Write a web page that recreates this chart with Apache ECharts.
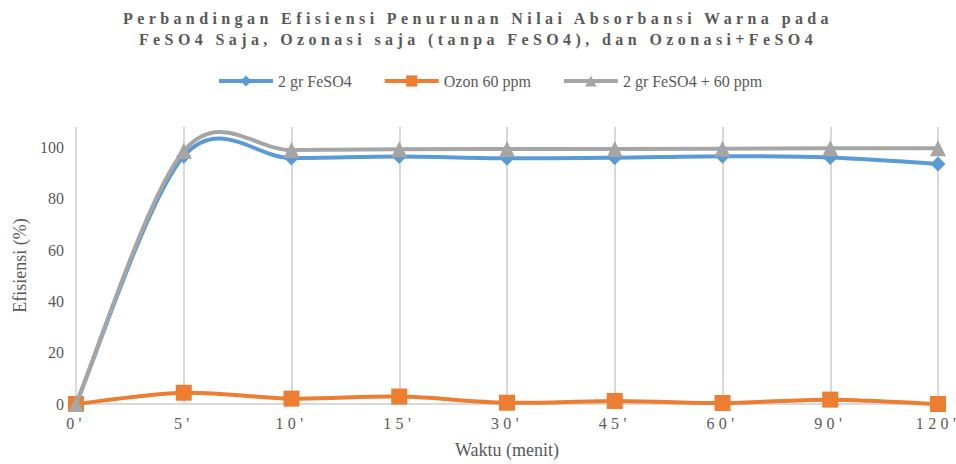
<!DOCTYPE html>
<html><head><meta charset="utf-8">
<script src="https://cdn.jsdelivr.net/npm/echarts@6/dist/echarts.min.js"></script>
<style>
html,body{margin:0;padding:0;background:#fff;}
#c{width:956px;height:464px;}
text[style*="Times New Roman"]{letter-spacing:4.4px;}
</style></head>
<body><div id="c"></div>
<script>
var categories = ["0'", "5'", "10'", "15'", "30'", "45'", "60'", "90'", "120'"];
var feso4 = [0, 96.6, 95.9, 96.5, 95.8, 96.0, 96.6, 96.1, 93.6];
var ozon = [0, 4.4, 2.1, 2.9, 0.5, 1.2, 0.4, 1.7, 0];
var combo = [0, 98.6, 99.0, 99.3, 99.4, 99.4, 99.5, 99.7, 99.7];
var titleLines = ["Perbandingan Efisiensi Penurunan Nilai Absorbansi Warna pada", "FeSO4 Saja, Ozonasi saja (tanpa FeSO4), dan Ozonasi+FeSO4"];
var seriesNames = ['2 gr FeSO4', 'Ozon 60 ppm', '2 gr FeSO4 + 60 ppm'];
var colors = ['#5B9BD5', '#ED7D31', '#A5A5A5'];
var symbols = ['diamond', 'rect', 'triangle'];
var symbolSizes = [15, 16, 16];
var values = [feso4, ozon, combo];

var chart = echarts.init(document.getElementById('c'), null, {renderer: 'svg'});
var serif = 'Liberation Serif';
var txt = '#595959';

// Excel-style smoothed curve (Catmull-Rom through the axis coordinates)
function curveSeries(vals, color, z) {
  return {
    type: 'custom', silent: true, z: z,
    data: vals.map(function (v, i) { return [i, v]; }),
    encode: {x: 0, y: 1},
    renderItem: function (params, api) {
      if (params.dataIndex !== 0) return null;
      var pts = vals.map(function (v, i) { return api.coord([i, v]); });
      var n = pts.length;
      var d = 'M' + pts[0][0] + ' ' + pts[0][1];
      for (var i = 0; i < n - 1; i++) {
        var p0 = pts[Math.max(i - 1, 0)], p1 = pts[i], p2 = pts[i + 1], p3 = pts[Math.min(i + 2, n - 1)];
        var c1x = p1[0] + (p2[0] - p0[0]) / 6, c1y = p1[1] + (p2[1] - p0[1]) / 6;
        var c2x = p2[0] - (p3[0] - p1[0]) / 6, c2y = p2[1] - (p3[1] - p1[1]) / 6;
        d += ' C' + c1x + ' ' + c1y + ' ' + c2x + ' ' + c2y + ' ' + p2[0] + ' ' + p2[1];
      }
      return {type: 'path', shape: {pathData: d},
        style: {fill: 'none', stroke: color, lineWidth: 4, lineCap: 'round', lineJoin: 'round'}};
    }
  };
}

var series = [];
for (var k = 0; k < 3; k++) {
  series.push(curveSeries(values[k], colors[k], 2 + k));
  series.push({
    name: seriesNames[k], type: 'line', data: values[k], z: 2 + k,
    symbol: symbols[k], symbolSize: symbolSizes[k], showSymbol: true,
    color: colors[k], itemStyle: {color: colors[k]},
    lineStyle: {width: 4, color: colors[k], opacity: 0}
  });
}

chart.setOption({
  animation: false,
  title: {
    text: titleLines.join('\n'),
    left: 'center', top: 3,
    textStyle: {fontFamily: 'Times New Roman', fontWeight: 'bold', fontSize: 16, color: txt, lineHeight: 21}
  },
  legend: {
    left: 217, top: 73, padding: 0, itemWidth: 54, itemHeight: 14, itemGap: 31,
    textStyle: {fontFamily: serif, fontSize: 16, color: txt},
    lineStyle: {width: 4, opacity: 1},
    data: seriesNames
  },
  grid: {left: 76, right: 18, top: 127, bottom: 59},
  xAxis: {
    type: 'category', data: categories, boundaryGap: false,
    name: 'Waktu (menit)', nameLocation: 'middle', nameGap: 37,
    nameTextStyle: {fontFamily: serif, fontSize: 18, color: txt},
    axisLine: {lineStyle: {color: '#d9d9d9', width: 2}},
    axisTick: {show: false},
    axisLabel: {fontFamily: 'Times New Roman', fontSize: 16, color: txt, margin: 11},
    splitLine: {show: true, lineStyle: {color: '#d9d9d9', width: 2}}
  },
  yAxis: {
    type: 'value', min: 0, max: 108, interval: 20,
    name: 'Efisiensi (%)', nameLocation: 'middle', nameGap: 46,
    nameTextStyle: {fontFamily: serif, fontSize: 18, color: txt},
    axisLine: {show: false}, axisTick: {show: false},
    axisLabel: {fontFamily: serif, fontSize: 16, color: txt, margin: 12, showMaxLabel: false,
      formatter: function (v) { return v % 20 === 0 ? String(v) : ''; }},
    splitLine: {show: false}
  },
  series: series
});
</script></body></html>
